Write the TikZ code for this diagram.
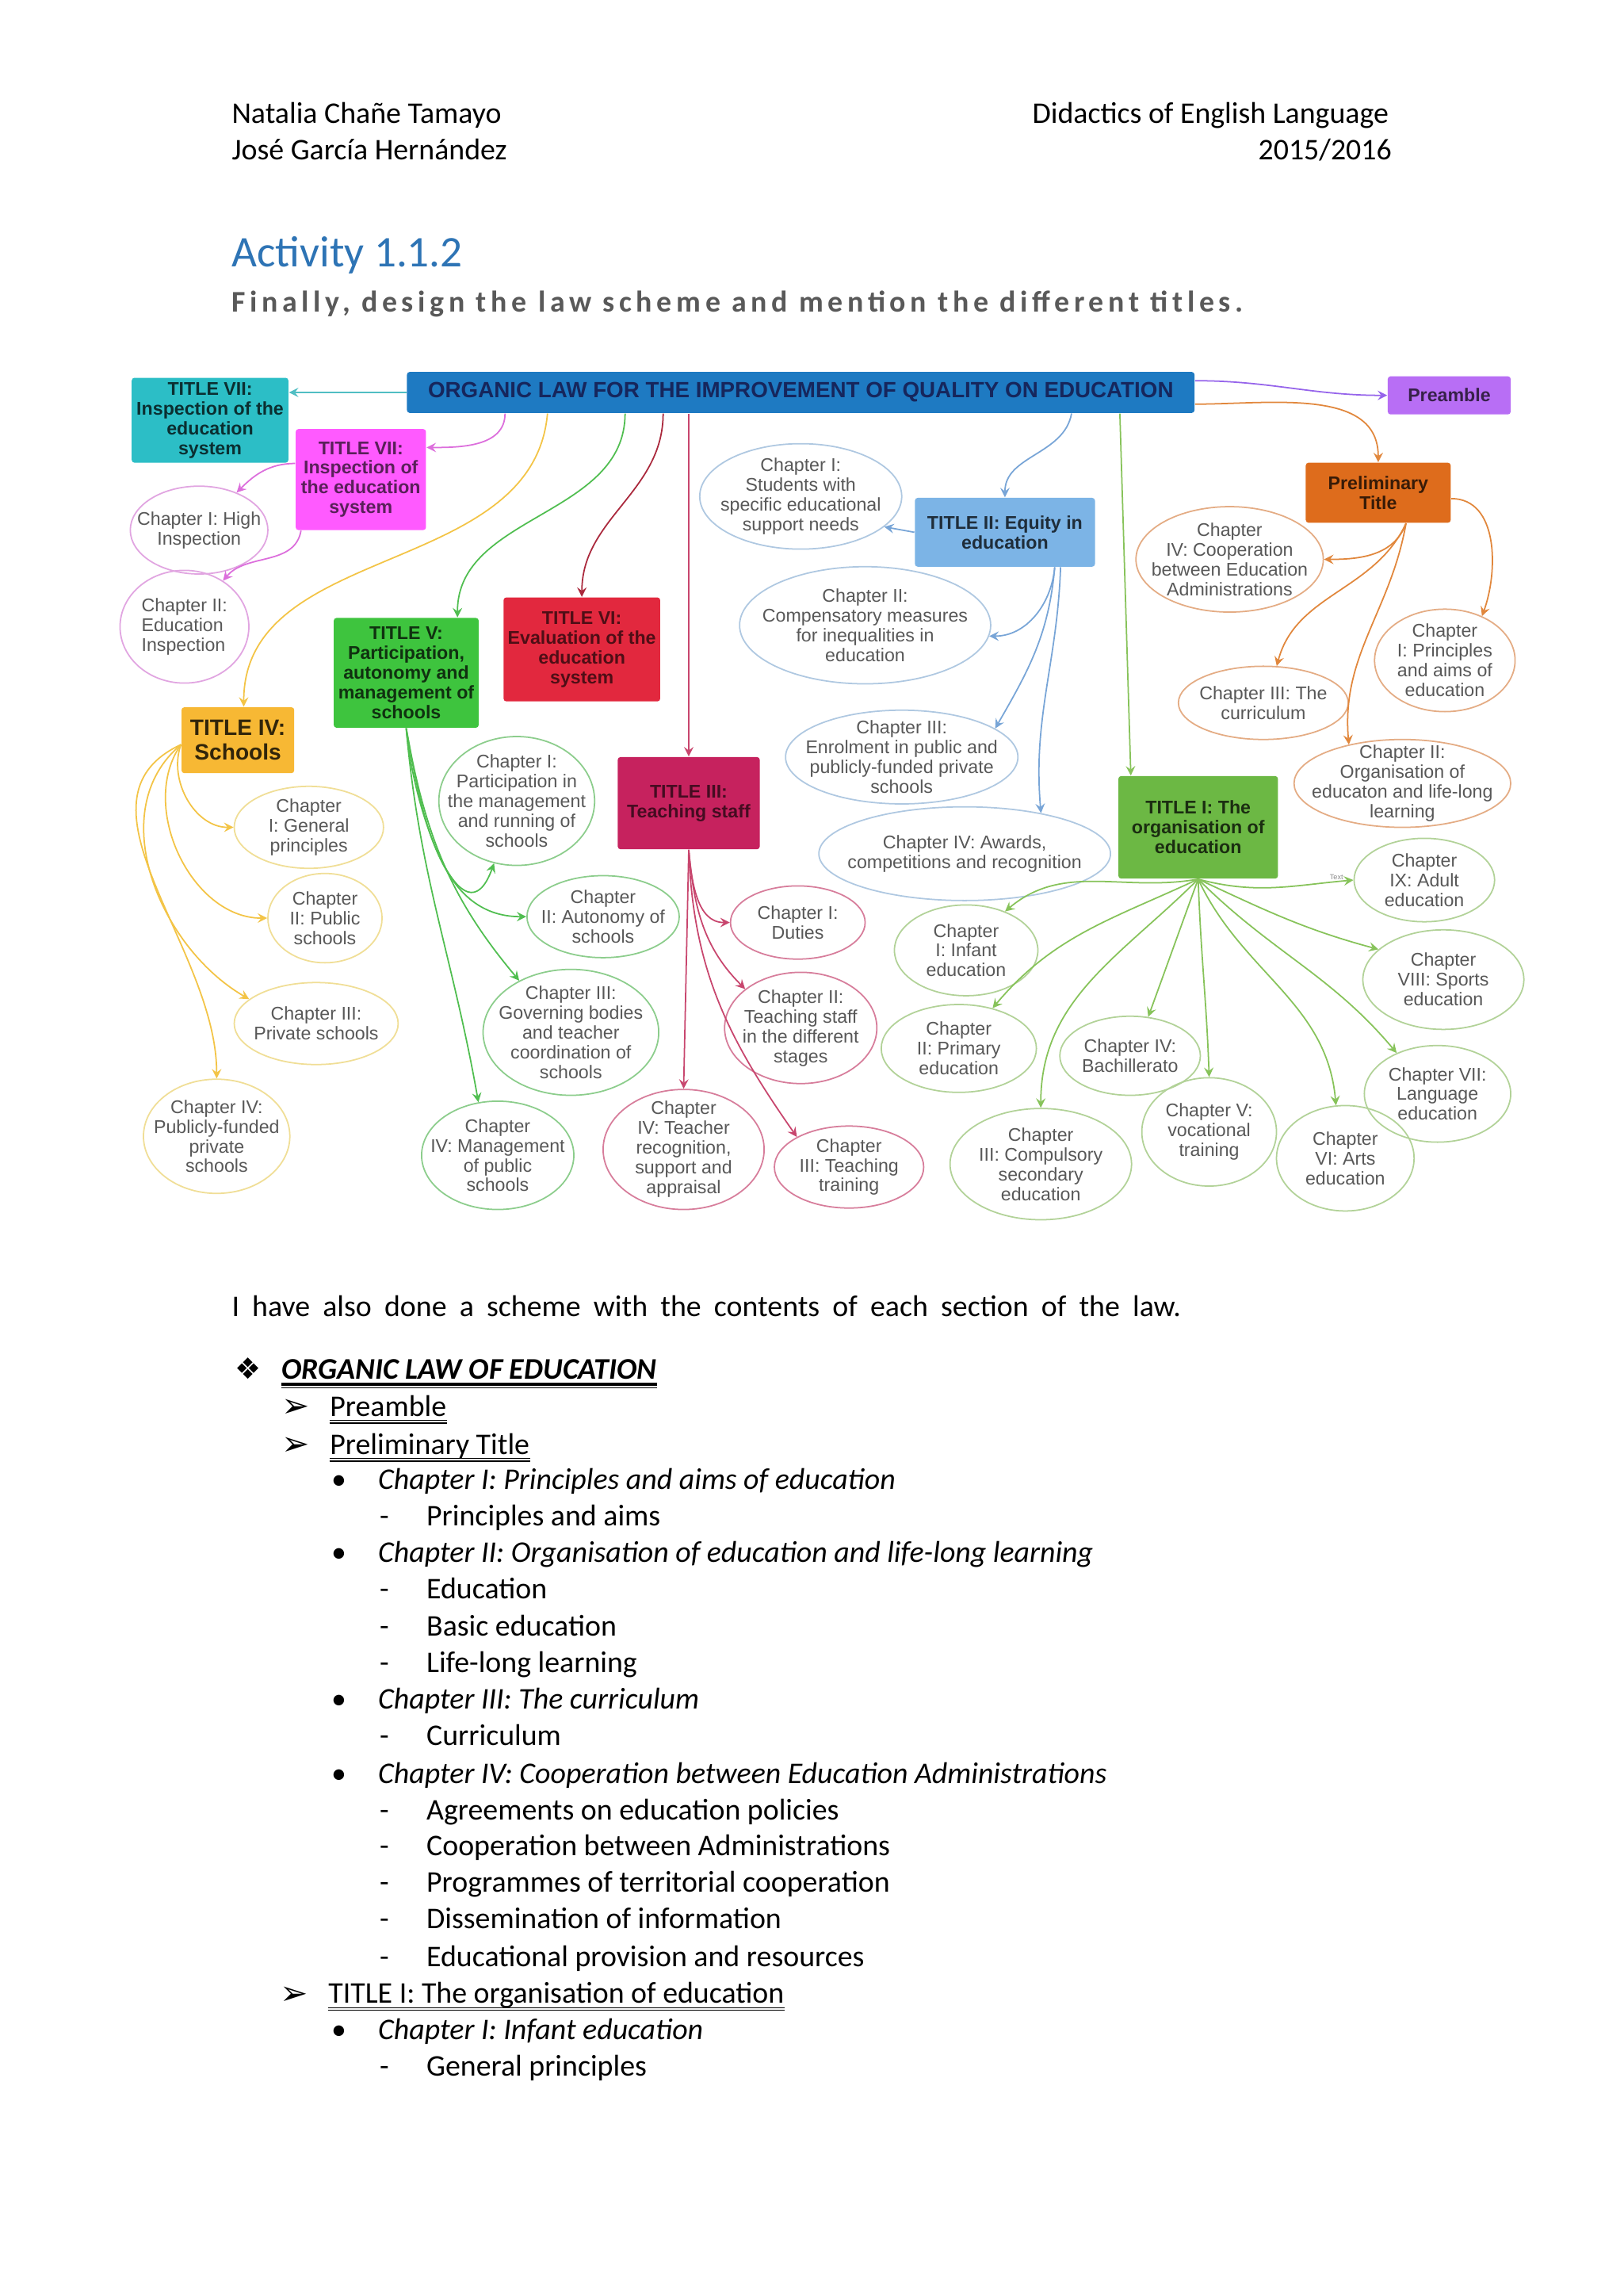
\documentclass[tikz,border=0pt]{standalone}
\usepackage{fontspec}
\setmainfont{Carlito}
\newfontfamily\mapfont{Liberation Sans}
\newfontfamily\dingfont{DejaVu Sans}
\newfontfamily\spacedfont[LetterSpace=15]{Carlito}
\usepackage{xcolor}
\usepackage{tikz}
\usetikzlibrary{shapes.geometric, arrows, positioning}

\definecolor{headblue}{RGB}{46, 116, 181}
\definecolor{subgrey}{RGB}{89, 89, 89}
\definecolor{lawblue}{RGB}{30, 122, 194}
\definecolor{lawtext}{RGB}{22, 38, 92}
\definecolor{preamblecol}{RGB}{184, 110, 245}
\definecolor{tealcol}{RGB}{44, 190, 198}
\definecolor{magentacol}{RGB}{255, 90, 255}
\definecolor{prelcol}{RGB}{222, 108, 28}
\definecolor{equitycol}{RGB}{124, 180, 230}
\definecolor{partcol}{RGB}{62, 196, 62}
\definecolor{evalcol}{RGB}{226, 40, 62}
\definecolor{schoolcol}{RGB}{247, 184, 52}
\definecolor{staffcol}{RGB}{198, 34, 94}
\definecolor{orgcol}{RGB}{108, 184, 68}
\definecolor{chaptext}{RGB}{88, 88, 88}
% connector colours
\definecolor{tealline}{RGB}{80, 190, 195}
\definecolor{pinkline}{RGB}{220, 110, 220}
\definecolor{yellowline}{RGB}{243, 196, 70}
\definecolor{greenline}{RGB}{80, 190, 80}
\definecolor{redline}{RGB}{170, 40, 60}
\definecolor{crimsonline}{RGB}{200, 70, 110}
\definecolor{blueline}{RGB}{120, 165, 215}
\definecolor{orgline}{RGB}{135, 195, 90}
\definecolor{purpleline}{RGB}{150, 100, 235}
\definecolor{orangeline}{RGB}{225, 135, 60}
% ellipse outlines
\definecolor{pinkedge}{RGB}{225, 165, 225}
\definecolor{yellowedge}{RGB}{240, 222, 150}
\definecolor{greenedge}{RGB}{140, 205, 140}
\definecolor{crimsonedge}{RGB}{215, 125, 155}
\definecolor{blueedge}{RGB}{175, 200, 225}
\definecolor{orangeedge}{RGB}{228, 172, 132}
\definecolor{orgedge}{RGB}{178, 210, 152}

\newlength\ux
\setlength\ux{0.18467mm}

\begin{document}
\begin{tikzpicture}[x=0.18467mm, y=-0.18467mm, >=stealth]
    \tikzstyle{titlebox} = [rectangle, rounded corners=1pt, inner sep=1pt, align=center, font=\mapfont\bfseries\fontsize{6.6}{7.1}\selectfont]
    \tikzstyle{chapter} = [ellipse, draw, inner sep=-5pt, align=center, text=chaptext, line width=0.5pt, font=\mapfont\fontsize{6.6}{7.1}\selectfont]
    \tikzstyle{link} = [->, line width=0.5pt]
    \tikzstyle{bodytext} = [anchor=base west, inner sep=0pt, font=\fontsize{10.77}{13}\selectfont]
    \tikzstyle{bulletmark} = [anchor=base west, inner sep=0pt, font=\dingfont\fontsize{12}{13}\selectfont]

    \useasboundingbox (0,0) rectangle (1109,1568);
    \fill [white] (0,0) rectangle (1109,1568);

    % page header
    \node (auth1) [bodytext] at (158,84) {Natalia Chañe Tamayo};
    \node (auth2) [bodytext] at (158,109) {José García Hernández};
    \node (course) [bodytext, anchor=base east] at (949,84) {Didactics of English Language};
    \node (year) [bodytext, anchor=base east] at (951,109) {2015/2016};
    \node (activity) [anchor=base west, inner sep=0pt, text=headblue, font=\fontsize{15.7}{18}\selectfont] at (158,182) {Activity 1.1.2};
    \node (task) [anchor=base west, inner sep=0pt, text=subgrey, font=\spacedfont\bfseries\fontsize{10.77}{13}\selectfont] at (158,213) {Finally, design the law scheme and mention the different titles.};

    % titles
    \node (law) [titlebox, fill=lawblue, text=lawtext, minimum width=538\ux, minimum height=28\ux, font=\mapfont\bfseries\fontsize{7.9}{8.5}\selectfont] at (547,268) {ORGANIC LAW FOR THE IMPROVEMENT OF QUALITY ON EDUCATION};
    \node (pre) [titlebox, fill=preamblecol, text=preamblecol!30!black, minimum width=84\ux, minimum height=26\ux] at (990,270) {Preamble};
    \node (t7a) [titlebox, fill=tealcol, text=tealcol!25!black, minimum width=107\ux, minimum height=58\ux] at (143.5,287) {TITLE VII:\\Inspection of the\\education\\system};
    \node (t7b) [titlebox, fill=magentacol, text=magentacol!35!black, minimum width=89\ux, minimum height=69\ux] at (246.5,327.5) {TITLE VII:\\Inspection of\\the education\\system};
    \node (prel) [titlebox, fill=prelcol, text=prelcol!25!black, minimum width=99\ux, minimum height=41\ux] at (941.5,336.5) {Preliminary\\Title};
    \node (t2) [titlebox, fill=equitycol, text=equitycol!25!black, minimum width=123\ux, minimum height=47\ux] at (686.5,363.5) {TITLE II: Equity in\\education};
    \node (t5) [titlebox, fill=partcol, text=partcol!25!black, minimum width=99\ux, minimum height=75\ux] at (277.5,459.5) {TITLE V:\\Participation,\\autonomy and\\management of\\schools};
    \node (t6) [titlebox, fill=evalcol, text=evalcol!35!black, minimum width=107\ux, minimum height=71\ux] at (397.5,443.5) {TITLE VI:\\Evaluation of the\\education\\system};
    \node (t4) [titlebox, fill=schoolcol, text=schoolcol!20!black, minimum width=77\ux, minimum height=45\ux, font=\mapfont\bfseries\fontsize{8}{9}\selectfont] at (162.5,505.5) {TITLE IV:\\Schools};
    \node (t3) [titlebox, fill=staffcol, text=staffcol!35!black, minimum width=97\ux, minimum height=63\ux] at (470.5,548.5) {TITLE III:\\Teaching staff};
    \node (t1) [titlebox, fill=orgcol, text=orgcol!25!black, minimum width=109\ux, minimum height=70\ux] at (818.5,565) {TITLE I: The\\organisation of\\education};

    % chapters of title VII
    \node (c7hi) [chapter, draw=pinkedge, minimum width=94\ux, minimum height=60\ux] at (136,362) {Chapter I: High\\Inspection};
    \node (c7ei) [chapter, draw=pinkedge, align=left, minimum width=88\ux, minimum height=77\ux] at (126,428) {Chapter II:\\Education\\Inspection};

    % chapters of the preliminary title
    \node (cp4) [chapter, draw=orangeedge, minimum width=128\ux, minimum height=72\ux] at (840,382) {Chapter\\IV: Cooperation\\between Education\\Administrations};
    \node (cp1) [chapter, draw=orangeedge, minimum width=96\ux, minimum height=70\ux] at (987,451) {Chapter\\I: Principles\\and aims of\\education};
    \node (cp3) [chapter, draw=orangeedge, minimum width=116\ux, minimum height=50\ux] at (863,480) {Chapter III: The\\curriculum};
    \node (cp2) [chapter, draw=orangeedge, minimum width=148\ux, minimum height=60\ux] at (958,535) {Chapter II:\\Organisation of\\educaton and life-long\\learning};

    % chapters of title II
    \node (c2a) [chapter, draw=blueedge, minimum width=138\ux, minimum height=72\ux] at (547,339) {Chapter I:\\Students with\\specific educational\\support needs};
    \node (c2b) [chapter, draw=blueedge, minimum width=158\ux, minimum height=80\ux] at (591,427) {Chapter II:\\Compensatory measures\\for inequalities in\\education};
    \node (c2c) [chapter, draw=blueedge, minimum width=156\ux, minimum height=64\ux] at (616,517) {Chapter III:\\Enrolment in public and\\publicly-funded private\\schools};
    \node (c2d) [chapter, draw=blueedge, minimum width=198\ux, minimum height=64\ux] at (659,583) {Chapter IV: Awards,\\competitions and recognition};

    % chapters of title IV
    \node (c4a) [chapter, draw=yellowedge, minimum width=102\ux, minimum height=56\ux] at (211,565) {Chapter\\I: General\\principles};
    \node (c4b) [chapter, draw=yellowedge, minimum width=78\ux, minimum height=61\ux] at (222,627) {Chapter\\II: Public\\schools};
    \node (c4c) [chapter, draw=yellowedge, minimum width=112\ux, minimum height=56\ux] at (216,699) {Chapter III:\\Private schools};
    \node (c4d) [chapter, draw=yellowedge, minimum width=100\ux, minimum height=78\ux] at (148,776) {Chapter IV:\\Publicly-funded\\private\\schools};

    % chapters of title V
    \node (c5a) [chapter, draw=greenedge, minimum width=106\ux, minimum height=88\ux] at (353,547) {Chapter I:\\Participation in\\the management\\and running of\\schools};
    \node (c5b) [chapter, draw=greenedge, minimum width=104\ux, minimum height=56\ux] at (412,626) {Chapter\\II: Autonomy of\\schools};
    \node (c5c) [chapter, draw=greenedge, minimum width=120\ux, minimum height=86\ux] at (390,705) {Chapter III:\\Governing bodies\\and teacher\\coordination of\\schools};
    \node (c5d) [chapter, draw=greenedge, minimum width=104\ux, minimum height=74\ux] at (340,789) {Chapter\\IV: Management\\of public\\schools};

    % chapters of title III
    \node (c3a) [chapter, draw=crimsonedge, minimum width=92\ux, minimum height=50\ux] at (545,630) {Chapter I:\\Duties};
    \node (c3b) [chapter, draw=crimsonedge, minimum width=104\ux, minimum height=76\ux] at (547,702) {Chapter II:\\Teaching staff\\in the different\\stages};
    \node (c3d) [chapter, draw=crimsonedge, minimum width=110\ux, minimum height=82\ux] at (467,785) {Chapter\\IV: Teacher\\recognition,\\support and\\appraisal};
    \node (c3c) [chapter, draw=crimsonedge, minimum width=102\ux, minimum height=56\ux] at (580,797) {Chapter\\III: Teaching\\training};

    % chapters of title I
    \node (ci1) [chapter, draw=orgedge, minimum width=98\ux, minimum height=62\ux] at (660,649) {Chapter\\I: Infant\\education};
    \node (ci2) [chapter, draw=orgedge, minimum width=106\ux, minimum height=60\ux] at (655,716) {Chapter\\II: Primary\\education};
    \node (ci3) [chapter, draw=orgedge, minimum width=124\ux, minimum height=76\ux] at (711,795) {Chapter\\III: Compulsory\\secondary\\education};
    \node (ci4) [chapter, draw=orgedge, minimum width=96\ux, minimum height=54\ux] at (772,721) {Chapter IV:\\Bachillerato};
    \node (ci5) [chapter, draw=orgedge, minimum width=92\ux, minimum height=74\ux] at (826,773) {Chapter V:\\vocational\\training};
    \node (ci6) [chapter, draw=orgedge, minimum width=94\ux, minimum height=72\ux] at (919,791) {Chapter\\VI: Arts\\education};
    \node (ci7) [chapter, draw=orgedge, minimum width=100\ux, minimum height=66\ux] at (982,747) {Chapter VII:\\Language\\education};
    \node (ci8) [chapter, draw=orgedge, minimum width=110\ux, minimum height=68\ux] at (986,669) {Chapter\\VIII: Sports\\education};
    \node (ci9) [chapter, draw=orgedge, minimum width=96\ux, minimum height=57\ux] at (973,601) {Chapter\\IX: Adult\\education};
    \node (txt) [inner sep=0pt, text=black!45, font=\mapfont\fontsize{2.6}{3}\selectfont] at (913,599) {Text};

    % from the law to its titles
    \draw [link, draw=tealline] (law.west) -- (t7a.east |- law.west);
    \draw [link, draw=pinkline] ([xshift=-202\ux]law.south) to[out=-90,in=0] (t7b.26);
    \draw [link, draw=yellowline] ([xshift=-173\ux]law.south) to[out=-95,in=90] ([xshift=4\ux]t4.north);
    \draw [link, draw=greenline] ([xshift=-120\ux]law.south) to[out=-90,in=90] ([xshift=35\ux]t5.north);
    \draw [link, draw=redline] ([xshift=-94\ux]law.south) to[out=-90,in=90] (t6.north);
    \draw [link, draw=crimsonline] (law.south -| t3.north) -- (t3.north);
    \draw [link, draw=blueline] ([xshift=185\ux]law.south) to[out=-100,in=90] (t2.north);
    \draw [link, draw=orgline] ([xshift=218\ux]law.south) -- ([xshift=-46\ux]t1.north);
    \draw [link, draw=purpleline] ([yshift=8\ux]law.east) to[out=0,in=180] (pre.west);
    \draw [link, draw=orangeline] ([yshift=-8\ux]law.east) to[out=0,in=90] (prel.north);

    % title VII
    \draw [link, draw=pinkline] ([yshift=11\ux]t7b.west) to[out=180,in=45] (c7hi.45);
    \draw [link, draw=pinkline] ([xshift=4\ux]t7b.south west) to[out=-100,in=50] (c7ei.50);

    % preliminary title
    \draw [link, draw=orangeline] ([yshift=-4\ux]prel.east) to[out=0,in=70] (cp1.50);
    \draw [link, draw=orangeline] ([xshift=19\ux]prel.south) to[out=-110,in=0] (cp4.east);
    \draw [link, draw=orangeline] ([xshift=19\ux]prel.south) to[out=-115,in=75] (cp3.70);
    \draw [link, draw=orangeline] ([xshift=19\ux]prel.south) to[out=-100,in=95] (cp2.144);

    % title II
    \draw [link, draw=blueline] (t2.west) -- (c2a.-20);
    \draw [link, draw=blueline] ([xshift=34\ux]t2.south) to[out=-95,in=0] (c2b.-5);
    \draw [link, draw=blueline] ([xshift=34\ux]t2.south) to[out=-95,in=60] (c2c.17);
    \draw [link, draw=blueline] ([xshift=38\ux]t2.south) to[out=-92,in=95] (c2d.28);

    % title IV
    \draw [link, draw=yellowline] ([yshift=-3\ux]t4.west) to[out=250,in=180] (c4a.west);
    \draw [link, draw=yellowline] ([yshift=-3\ux]t4.west) to[out=235,in=180] (c4b.west);
    \draw [link, draw=yellowline] ([yshift=-3\ux]t4.west) to[out=220,in=150] (c4c.160);
    \draw [link, draw=yellowline] ([yshift=-3\ux]t4.west) to[out=205,in=90] (c4d.north);

    % title V
    \draw [link, draw=greenline] (t5.south) to[out=-85,in=-110, looseness=1.4] (c5a.250);
    \draw [link, draw=greenline] (t5.south) to[out=-80,in=180] (c5b.west);
    \draw [link, draw=greenline] (t5.south) to[out=-80,in=130] (c5c.135);
    \draw [link, draw=greenline] (t5.south) to[out=-85,in=100] (c5d.110);

    % title III
    \draw [link, draw=crimsonline] (t3.south) to[out=-85,in=180] (c3a.west);
    \draw [link, draw=crimsonline] (t3.south) to[out=-85,in=135] (c3b.145);
    \draw [link, draw=crimsonline] (t3.south) -- (c3d.north);
    \draw [link, draw=crimsonline] (t3.south) to[out=-88,in=125] (c3c.150);

    % title I
    \draw [link, draw=orgline] (t1.south) to[out=190,in=40] (ci1.45);
    \draw [link, draw=orgline] (t1.south) to[out=205,in=50] (ci2.50);
    \draw [link, draw=orgline] (t1.south) to[out=225,in=90] (ci3.north);
    \draw [link, draw=orgline] (t1.south) to[out=250,in=70] (ci4.65);
    \draw [link, draw=orgline] (t1.south) to[out=-88,in=92] (ci5.north);
    \draw [link, draw=orgline] (t1.south) to[out=-65,in=95] (ci6.100);
    \draw [link, draw=orgline] (t1.south) to[out=-45,in=130] (ci7.135);
    \draw [link, draw=orgline] (t1.south) to[out=-25,in=165] (ci8.155);
    \draw [link, draw=orgline] (t1.south) to[out=-15,in=185] (ci9.west);

    % contents of the law
    \node (intro) [bodytext] at (158,899) {\spaceskip=4.6pt\relax I have also done a scheme with the contents of each section of the law.};
    \node (m0) [bulletmark, font=\dingfont\fontsize{10.5}{12}\selectfont] at (160,942) {❖};
    \node (l0) [bodytext] at (192,942) {\textbf{\textit{ORGANIC LAW OF EDUCATION}}};
    \node (m1) [bulletmark] at (192,968) {➢};
    \node (l1) [bodytext] at (225,967) {Preamble};
    \node (m2) [bulletmark] at (192,994) {➢};
    \node (l2) [bodytext] at (225,993) {Preliminary Title};
    \node (b1) [bodytext] at (226,1017) {•};
    \node (l3) [bodytext] at (258,1017) {\textit{Chapter I: Principles and aims of education}};
    \node (d1) [bodytext] at (259,1042) {-};
    \node (l4) [bodytext] at (291,1042) {Principles and aims};
    \node (b2) [bodytext] at (226,1067) {•};
    \node (l5) [bodytext] at (258,1067) {\textit{Chapter II: Organisation of education and life-long learning}};
    \node (d2) [bodytext] at (259,1092) {-};
    \node (l6) [bodytext] at (291,1092) {Education};
    \node (d3) [bodytext] at (259,1117) {-};
    \node (l7) [bodytext] at (291,1117) {Basic education};
    \node (d4) [bodytext] at (259,1142) {-};
    \node (l8) [bodytext] at (291,1142) {Life-long learning};
    \node (b3) [bodytext] at (226,1167) {•};
    \node (l9) [bodytext] at (258,1167) {\textit{Chapter III: The curriculum}};
    \node (d5) [bodytext] at (259,1192) {-};
    \node (l10) [bodytext] at (291,1192) {Curriculum};
    \node (b4) [bodytext] at (226,1218) {•};
    \node (l11) [bodytext] at (258,1218) {\textit{Chapter IV: Cooperation between Education Administrations}};
    \node (d6) [bodytext] at (259,1243) {-};
    \node (l12) [bodytext] at (291,1243) {Agreements on education policies};
    \node (d7) [bodytext] at (259,1267) {-};
    \node (l13) [bodytext] at (291,1267) {Cooperation between Administrations};
    \node (d8) [bodytext] at (259,1292) {-};
    \node (l14) [bodytext] at (291,1292) {Programmes of territorial cooperation};
    \node (d9) [bodytext] at (259,1317) {-};
    \node (l15) [bodytext] at (291,1317) {Dissemination of information};
    \node (d10) [bodytext] at (259,1343) {-};
    \node (l16) [bodytext] at (291,1343) {Educational provision and resources};
    \node (m3) [bulletmark] at (191,1369) {➢};
    \node (l17) [bodytext] at (224,1368) {TITLE I: The organisation of education};
    \node (b5) [bodytext] at (226,1393) {•};
    \node (l18) [bodytext] at (258,1393) {\textit{Chapter I: Infant education}};
    \node (d11) [bodytext] at (259,1418) {-};
    \node (l19) [bodytext] at (291,1418) {General principles};

    % underlines
    \draw [line width=1.0pt] ([yshift=-1.7pt]l0.base west) -- ([yshift=-1.7pt]l0.base east);
    \draw [line width=0.4pt] ([yshift=-3.0pt]l0.base west) -- ([yshift=-3.0pt]l0.base east);
    \foreach \ul in {l1, l2, l17} {
        \draw [line width=0.4pt] ([yshift=-1.6pt]\ul.base west) -- ([yshift=-1.6pt]\ul.base east);
        \draw [line width=0.4pt] ([yshift=-2.6pt]\ul.base west) -- ([yshift=-2.6pt]\ul.base east);
    }
\end{tikzpicture}
\end{document}
